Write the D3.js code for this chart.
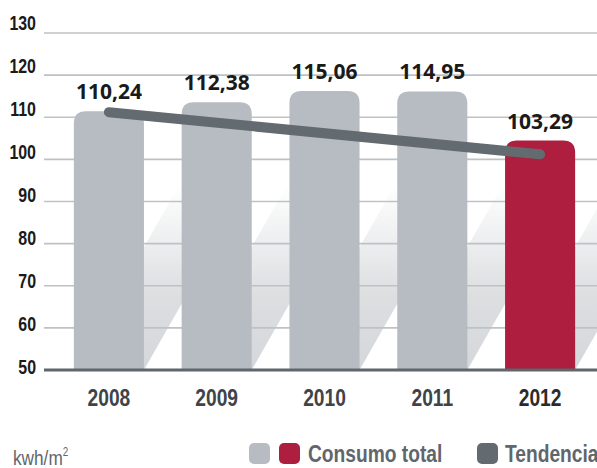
<!DOCTYPE html>
<html>
<head>
<meta charset="utf-8">
<script src="https://cdn.jsdelivr.net/npm/d3@7/dist/d3.min.js"></script>
<style>
  html, body { margin: 0; padding: 0; background: #fff; }
  svg { display: block; }
</style>
</head>
<body>
<svg id="chart" width="597" height="468"></svg>
<script>
// ---- data ----
const years = ["2008", "2009", "2010", "2011", "2012"];
const consumo = [110.24, 112.38, 115.06, 114.95, 103.29];
const valueLabels = ["110,24", "112,38", "115,06", "114,95", "103,29"];
const trendYears = ["2008", "2012"];
const trendValues = [111.2, 101.2];
const yTicks = [50, 60, 70, 80, 90, 100, 110, 120, 130];
const unitLabel = "kwh/m";
const legendLabels = ["Consumo total", "Tendencia"];

// ---- styles ----
const W = 597, H = 468;
const barGray = "#b6bcc2", barRed = "#ae1e3f", trendColor = "#636a70";
const gridColor = "#bec2c6";
const condFont = "'Liberation Sans', Arial, sans-serif";

const svg = d3.select("#chart");

const x = d3.scaleBand().domain(years).range([55, 594]).paddingInner(0.35).paddingOuter(0.175);
const y = d3.scaleLinear().domain([50, 130]).range([370, 33]);
const yLabel = d3.scaleLinear().domain([50, 130]).range([373, 29]);
const base = y(50);
const shear = 0.57;
const cornerOffset = 5;
const r = 12;

// gradient for shadows
const defs = svg.append("defs");
const grad = defs.append("linearGradient").attr("id", "shadowGrad")
  .attr("gradientUnits", "userSpaceOnUse").attr("x1", 0).attr("x2", 0).attr("y1", base).attr("y2", 185);
grad.append("stop").attr("offset", 0).attr("stop-color", "#d5d8db");
grad.append("stop").attr("offset", 0.4).attr("stop-color", "#dcdee0");
grad.append("stop").attr("offset", 1).attr("stop-color", "#ffffff");

const data = years.map((yr, i) => ({ yr, v: consumo[i], label: valueLabels[i], last: i === years.length - 1 }));

// shadows
svg.append("g").selectAll("path").data(data).join("path")
  .attr("d", d => {
    const l = x(d.yr), rr = l + x.bandwidth();
    const top = y(d.v) - cornerOffset;
    const h = base - top;
    return `M${l},${base}L${rr},${base}L${rr + shear * h},${top}L${l + shear * h},${top}Z`;
  })
  .attr("fill", "url(#shadowGrad)");

// gridlines
svg.append("g").selectAll("line").data(yTicks.filter(t => t !== 50)).join("line")
  .attr("x1", 44).attr("x2", W).attr("y1", d => y(d)).attr("y2", d => y(d))
  .attr("stroke", gridColor).attr("stroke-width", 1.6);

// bars with rounded tops
svg.append("g").selectAll("path").data(data).join("path")
  .attr("d", d => {
    const l = x(d.yr), w = x.bandwidth(), rr = l + w;
    const top = y(d.v) - cornerOffset;
    return `M${l},${base}L${l},${top + r}Q${l},${top} ${l + r},${top}L${rr - r},${top}Q${rr},${top} ${rr},${top + r}L${rr},${base}Z`;
  })
  .attr("fill", d => d.last ? barRed : barGray);

// baseline
svg.append("line").attr("x1", 44).attr("x2", W).attr("y1", base).attr("y2", base)
  .attr("stroke", "#5f666c").attr("stroke-width", 3);

// trend line
const line = d3.line().x(d => x(d.yr) + x.bandwidth() / 2).y(d => y(d.v));
svg.append("path")
  .datum(trendYears.map((yr, i) => ({ yr, v: trendValues[i] })))
  .attr("d", line)
  .attr("fill", "none").attr("stroke", trendColor).attr("stroke-width", 10).attr("stroke-linecap", "round");

// value labels
svg.append("g").selectAll("text").data(data).join("text")
  .attr("x", d => x(d.yr) + x.bandwidth() / 2)
  .attr("y", d => y(d.v) - cornerOffset - 12)
  .attr("text-anchor", "middle")
  .attr("font-family", "'Open Sans', sans-serif").attr("font-weight", 700).attr("font-size", 21)
  .attr("fill", "#1a1a1a")
  .text(d => d.label);

// y tick labels
const yAxis = d3.axisLeft(yLabel).tickValues(yTicks).tickSize(0).tickPadding(0).tickFormat(d3.format("d"));
const gy = svg.append("g").attr("transform", "translate(36,0)").call(yAxis);
gy.select(".domain").remove();
gy.selectAll("text").attr("dy", 0).attr("x", 0)
  .attr("transform", "scale(0.76,1)")
  .attr("font-size", 21).attr("font-weight", 700).attr("fill", "#1a1a1a")
  .style("font-family", condFont);

// x labels
const xAxis = d3.axisBottom(x).tickSize(0).tickPadding(0);
const gx = svg.append("g").attr("transform", "translate(0,406)").call(xAxis);
gx.select(".domain").remove();
gx.selectAll("text").attr("dy", 0).attr("y", 0)
  .attr("transform", "scale(0.8,1)")
  .attr("font-size", 24).attr("font-weight", 700)
  .attr("fill", d => d === years[years.length - 1] ? "#2b2b2b" : "#404448")
  .style("font-family", condFont);

// unit label
const unit = svg.append("text").attr("transform", "translate(13,465) scale(0.82,1)")
  .attr("font-size", 21).attr("fill", "#5f666c")
  .style("font-family", condFont);
unit.append("tspan").text(unitLabel);
unit.append("tspan").attr("font-size", 12).attr("dy", -9).text("2");

// legend
const lg = svg.append("g");
lg.append("rect").attr("x", 249).attr("y", 443).attr("width", 21).attr("height", 21).attr("rx", 5).attr("fill", barGray);
lg.append("rect").attr("x", 279).attr("y", 443).attr("width", 21).attr("height", 21).attr("rx", 5).attr("fill", barRed);
lg.append("text").attr("transform", "translate(308,462) scale(0.8,1)").text(legendLabels[0]);
lg.append("rect").attr("x", 477).attr("y", 443).attr("width", 21).attr("height", 21).attr("rx", 5).attr("fill", trendColor);
lg.append("text").attr("transform", "translate(505,462) scale(0.8,1)").text(legendLabels[1]);
lg.selectAll("text").attr("font-size", 24).attr("font-weight", 700).attr("fill", "#5f666c")
  .style("font-family", condFont);
</script>
</body>
</html>
